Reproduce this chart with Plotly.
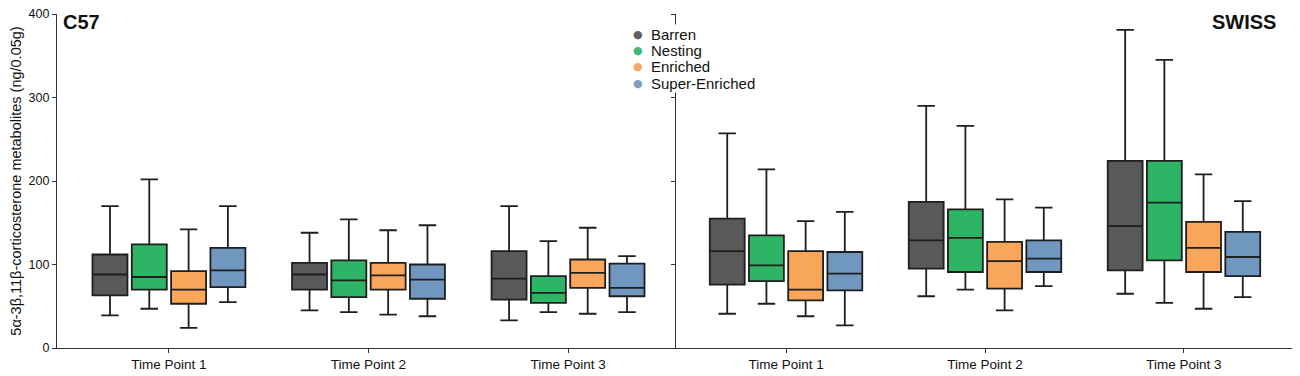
import plotly.graph_objects as go

time_points = ["Time Point 1", "Time Point 2", "Time Point 3"]
groups = ["Barren", "Nesting", "Enriched", "Super-Enriched"]
colors = ["#59595b", "#2db565", "#f9a55a", "#7097c0"]
legend_colors = ["#606062", "#3dba76", "#f7a866", "#7f9fc2"]

# C57 panel: values per group, one per time point
c57_upper = [[170, 138, 170], [202, 154, 128], [142, 141, 144], [170, 147, 110]]
c57_q3 = [[112, 102, 116], [124, 105, 86], [92, 102, 106], [120, 100, 101]]
c57_median = [[88, 88, 83], [85, 81, 66], [70, 87, 90], [93, 82, 72]]
c57_q1 = [[63, 70, 58], [70, 61, 54], [53, 70, 72], [73, 59, 62]]
c57_lower = [[39, 45, 33], [47, 43, 43], [24, 40, 41], [55, 38, 43]]

# SWISS panel
swiss_upper = [[257, 290, 381], [214, 266, 345], [152, 178, 208], [163, 168, 176]]
swiss_q3 = [[155, 175, 224], [135, 166, 224], [116, 127, 151], [115, 129, 139]]
swiss_median = [[116, 129, 146], [99, 132, 174], [70, 104, 120], [89, 107, 109]]
swiss_q1 = [[76, 95, 93], [80, 91, 105], [57, 71, 91], [69, 91, 86]]
swiss_lower = [[41, 62, 65], [53, 70, 54], [38, 45, 47], [27, 74, 61]]

y_ticks = [0, 100, 200, 300, 400]

font_family = "Arial, Liberation Sans, sans-serif"
line_col = "#1e1e1e"

fig = go.Figure()

panels = [
    ("x", "y", c57_upper, c57_q3, c57_median, c57_q1, c57_lower),
    ("x2", "y2", swiss_upper, swiss_q3, swiss_median, swiss_q1, swiss_lower),
]
for xa, ya, up, q3, med, q1, lo in panels:
    for i, g in enumerate(groups):
        fig.add_trace(go.Box(
            x=time_points,
            q1=q1[i], median=med[i], q3=q3[i],
            lowerfence=lo[i], upperfence=up[i],
            name=g, fillcolor=colors[i],
            line=dict(color=line_col, width=1.8),
            whiskerwidth=0.5, boxpoints=False,
            xaxis=xa, yaxis=ya, showlegend=False,
            offsetgroup=g,
        ))

# page body has an 8px margin: figure is drawn 8px in from the window edge
OFF = 8
W, H = 1300 - OFF, 376 - OFF
plot_left, plot_right, plot_top, plot_bottom = 57, 1293, 14, 348  # window px
ml = plot_left - OFF
mt = plot_top - OFF
mr = W - (plot_right - OFF)
mb = H - (plot_bottom - OFF)
pw = W - ml - mr
ph = H - mt - mb


def px_x(p):
    return (p - plot_left) / pw


def px_y(p):
    return (plot_bottom - p) / ph


axis_common = dict(
    showline=True, linecolor="#333333", linewidth=1.2,
    ticks="outside", ticklen=4, tickcolor="#333333", tickwidth=1.2,
    showgrid=False, zeroline=False, automargin=False,
    ticklabeloverflow="allow",
    tickfont=dict(family=font_family, size=13.5, color="#111111"),
)

annotations = [
    dict(text="<b>C57</b>", xref="paper", yref="paper",
         x=px_x(61), y=px_y(9), xanchor="left", yanchor="top",
         showarrow=False, font=dict(family=font_family, size=20, color="#111111")),
    dict(text="<b>SWISS</b>", xref="paper", yref="paper",
         x=px_x(1278), y=px_y(9), xanchor="right", yanchor="top",
         showarrow=False, font=dict(family=font_family, size=20, color="#111111")),
    # white backing of the legend block (hides the axis line behind it)
    dict(text=" ", xref="paper", yref="paper", x=px_x(628), y=px_y(24),
         xanchor="left", yanchor="top", showarrow=False, bgcolor="white",
         width=135, height=67, borderpad=0),
]

# legend drawn as text entries (tight spacing like the original)
leg_y0, leg_step = 34, 16.5
for i, g in enumerate(groups):
    yc = px_y(leg_y0 + i * leg_step)
    annotations.append(dict(
        text=g, xref="paper", yref="paper", x=px_x(650), y=yc,
        xanchor="left", yanchor="middle", showarrow=False, borderpad=0,
        font=dict(family=font_family, size=15, color="#111111")))
    annotations.append(dict(
        text="●", xref="paper", yref="paper", x=px_x(637.5), y=yc,
        xanchor="center", yanchor="middle", showarrow=False, borderpad=0,
        font=dict(family="DejaVu Sans", size=11, color=legend_colors[i])))

fig.update_layout(
    width=W, height=H,
    margin=dict(l=ml, r=mr, t=mt, b=mb),
    paper_bgcolor="white", plot_bgcolor="white",
    boxmode="group", boxgap=0.212, boxgroupgap=0.11,
    font=dict(family=font_family, color="#111111"),
    showlegend=False,
    xaxis=dict(domain=[0, px_x(672)], range=[-0.561, 2.521],
               type="category", categoryorder="array", categoryarray=time_points,
               anchor="y", **axis_common),
    xaxis2=dict(domain=[px_x(676), 1], range=[-0.553, 2.548],
                type="category", categoryorder="array", categoryarray=time_points,
                anchor="y2", **axis_common),
    yaxis=dict(range=[0, 400], tickvals=y_ticks, anchor="x",
               title=dict(text="5α-3β,11β-corticosterone metabolites (ng/0.05g)",
                          font=dict(family=font_family, size=14.5, color="#111111"),
                          standoff=12),
               **{**axis_common, "tickfont": dict(family=font_family, size=12.5, color="#111111")}),
    yaxis2=dict(range=[0, 400], tickvals=y_ticks, anchor="x2", showticklabels=False,
                **axis_common),
    annotations=annotations,
)

fig.write_html("out.html")
